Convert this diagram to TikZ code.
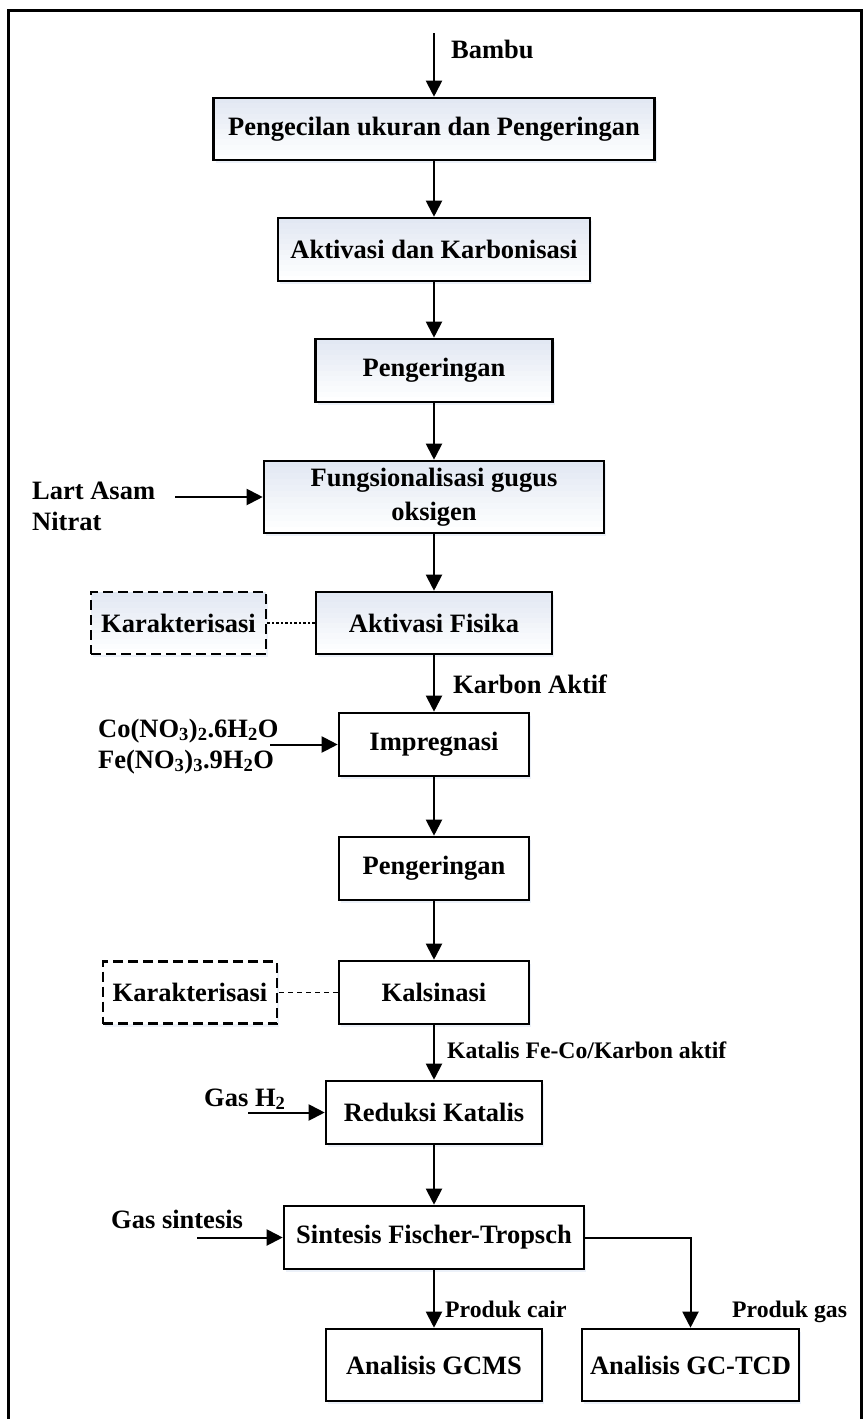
\documentclass[tikz,border=0pt]{standalone}
\usepackage{fontspec}
\setmainfont{Liberation Serif}
\usetikzlibrary{arrows.meta,shadows,calc}
\definecolor{boxtop}{HTML}{E2E8F3}
\definecolor{glow}{HTML}{C9D6EE}

\begin{document}
\begin{tikzpicture}[x=1pt,y=-1pt,
		font=\bfseries\fontsize{26.5}{31}\selectfont,
		procbox/.style={draw,line width=2.6pt,fill=white,inner sep=0pt,align=center,
			drop shadow={shadow xshift=2pt,shadow yshift=-3pt,fill=glow,opacity=.35}},
		shadebox/.style={procbox,path picture={
			\foreach \k [evaluate=\k as \p using 100-\k*9] in {0,...,11}
				\fill[boxtop!\p!white] ($(path picture bounding box.north west)!\k/12!(path picture bounding box.south west)$)
					rectangle ($(path picture bounding box.north east)!{(\k+1.3)/12}!(path picture bounding box.south east)$);}},
		charbox/.style={draw,line width=2.2pt,dash pattern=on 10pt off 5pt,inner sep=0pt},
		arr/.style={line width=2pt,-{Triangle[length=16pt,width=16pt]}},
		link/.style={line width=1.6pt},
		lbl/.style={inner sep=0pt,anchor=base west},
		small/.style={font=\bfseries\fontsize{23.7}{28}\selectfont}]
	\useasboundingbox (0,0) rectangle (864,1419);
	\draw[line width=3pt] (8,10) rectangle (861,1430);

	% PREPARATION OF CARBON
	\node[shadebox,minimum width=441,minimum height=62] (pengecilan) at (434,129) {Pengecilan ukuran dan Pengeringan};
	\node[shadebox,minimum width=312,minimum height=63] (aktivasi) at (434,249.5) {Aktivasi dan Karbonisasi};
	\node[shadebox,minimum width=237,minimum height=63] (keringA) at (434,370.5) {Pengeringan};
	\node[shadebox,minimum width=340,minimum height=72] (fungsional) at (434,497) {Fungsionalisasi gugus\\[3pt]oksigen};
	\node[shadebox,minimum width=236,minimum height=62] (fisika) at (434,623) {Aktivasi Fisika};
	\node[shadebox,charbox,minimum width=175,minimum height=62] (karakA) at (178.5,623) {Karakterisasi};

	% CATALYST
	\node[procbox,minimum width=190,minimum height=63] (impregnasi) at (434,744.5) {Impregnasi};
	\node[procbox,minimum width=190,minimum height=63] (keringB) at (434,868.5) {Pengeringan};
	\node[procbox,minimum width=190,minimum height=63] (kalsinasi) at (434,992.5) {Kalsinasi};
	\node[procbox,charbox,minimum width=174,minimum height=62] (karakB) at (190,992.5) {Karakterisasi};
	\node[procbox,minimum width=216,minimum height=63] (reduksi) at (434,1112.5) {Reduksi Katalis};

	% FISCHER-TROPSCH AND ANALYSIS
	\node[procbox,minimum width=300,minimum height=63] (fischer) at (434,1237.5) {Sintesis Fischer-Tropsch};
	\node[procbox,minimum width=216,minimum height=72] (gcms) at (434,1365) {Analisis GCMS};
	\node[procbox,minimum width=217,minimum height=72] (gctcd) at (690.5,1365) {Analisis GC-TCD};

	% FEEDS
	\coordinate (bambu) at (434,33);
	\coordinate (lart) at (175,497);
	\coordinate (garam) at (270,744.5);
	\coordinate (hidrogen) at (248,1112.5);
	\coordinate (syngas) at (197,1237.5);

	% LABELS
	\node[lbl] (lblbambu) at (451,58) {Bambu};
	\node[lbl,align=left] (lbllart) at (32,530) {Lart Asam\\Nitrat};
	\node[lbl,align=left] (lblgaram) at (98,768) {Co(NO\textsubscript{3})\textsubscript{2}.6H\textsubscript{2}O\\Fe(NO\textsubscript{3})\textsubscript{3}.9H\textsubscript{2}O};
	\node[lbl] (lblkarbon) at (453,693) {Karbon Aktif};
	\node[lbl,small] (lblkatalis) at (447,1058) {Katalis Fe-Co/Karbon aktif};
	\node[lbl] (lblhidrogen) at (204,1106) {Gas H\textsubscript{2}};
	\node[lbl] (lblsyngas) at (111,1228) {Gas sintesis};
	\node[lbl,small] (lblcair) at (445,1317) {Produk cair};
	\node[lbl,small] (lblgas) at (732,1317) {Produk gas};

	% ARROWS
	\draw[arr] (bambu) -- (pengecilan.north);
	\foreach \a/\b in {pengecilan/aktivasi,aktivasi/keringA,keringA/fungsional,fungsional/fisika,
			fisika/impregnasi,impregnasi/keringB,keringB/kalsinasi,kalsinasi/reduksi,reduksi/fischer,fischer/gcms} {
		\draw[arr] (\a.south) -- (\b.north);
	}
	\draw[arr] (lart) -- (fungsional.west);
	\draw[arr] (garam) -- (impregnasi.west);
	\draw[arr] (hidrogen) -- (reduksi.west);
	\draw[arr] (syngas) -- (fischer.west);
	\draw[arr] (fischer.east) -| (gctcd.north);
	\draw[link,dash pattern=on 2.5pt off 2pt] (fisika.west) -- (karakA.east);
	\draw[link,dash pattern=on 5pt off 4pt] (kalsinasi.west) -- (karakB.east);
\end{tikzpicture}
\end{document}
